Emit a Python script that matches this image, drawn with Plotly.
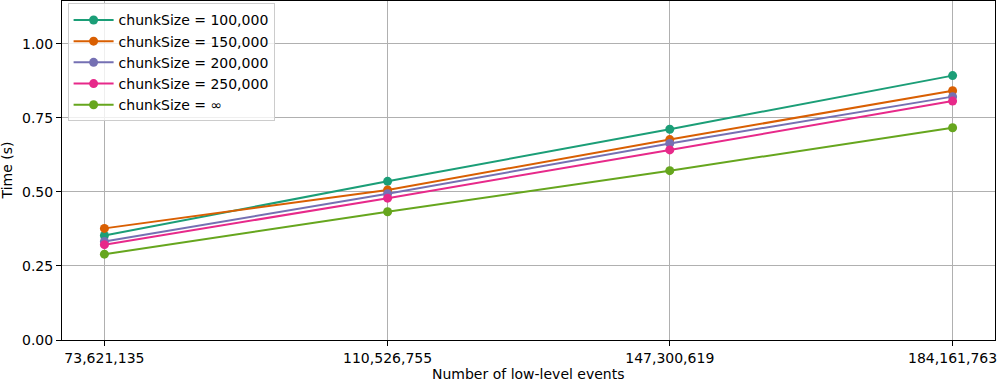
import plotly.graph_objects as go

# number of low-level events (x positions)
events = [73621135, 110526755, 147300619, 184161763]
event_labels = ["73,621,135", "110,526,755", "147,300,619", "184,161,763"]

# time in seconds for each chunk size
t_100k = [0.353, 0.536, 0.712, 0.893]
t_150k = [0.377, 0.507, 0.677, 0.842]
t_200k = [0.333, 0.494, 0.664, 0.822]
t_250k = [0.322, 0.479, 0.642, 0.807]
t_inf = [0.290, 0.433, 0.572, 0.717]

names = ["chunkSize = 100,000", "chunkSize = 150,000", "chunkSize = 200,000",
         "chunkSize = 250,000", "chunkSize = \u221e"]
colors = ["#1b9e77", "#d95f02", "#7570b3", "#e7298a", "#66a61e"]

fig = go.Figure()
for name, vals, col in zip(names, [t_100k, t_150k, t_200k, t_250k, t_inf], colors):
    fig.add_trace(go.Scatter(x=events, y=vals, name=name, mode="lines+markers",
                             line=dict(color=col, width=2),
                             marker=dict(color=col, size=9)))

# matplotlib-like 5% margins on x
span = events[-1] - events[0]
xr = [events[0] - 0.05 * span, events[-1] + 0.05 * span]

font = dict(family="DejaVu Sans", size=14, color="black")
axis_style = dict(showgrid=True, gridcolor="#b0b0b0", gridwidth=1,
                  zeroline=False, showline=True, linecolor="black", linewidth=1,
                  mirror=True, ticks="outside", ticklen=5, tickcolor="black",
                  automargin=False, ticklabeloverflow="allow")
fig.update_layout(
    width=997, height=381,
    margin=dict(l=62, r=2, t=1, b=41),
    plot_bgcolor="white", paper_bgcolor="white",
    font=font,
    showlegend=True,
    legend=dict(x=0.006, y=0.993, xanchor="left", yanchor="top",
                bgcolor="rgba(255,255,255,0.8)", bordercolor="#cccccc",
                borderwidth=1, font=dict(family="DejaVu Sans", size=14),
                itemwidth=40),
    xaxis=dict(range=xr, tickvals=events, ticktext=event_labels, **axis_style),
    yaxis=dict(range=[0, 1.145], tickvals=[0, 0.25, 0.5, 0.75, 1.0],
               ticktext=["0.00", "0.25", "0.50", "0.75", "1.00"], **axis_style),
    annotations=[
        dict(text="Number of low-level events", xref="paper", yref="paper",
             x=0.5, y=-0.1, xanchor="center", yanchor="middle",
             showarrow=False, font=font),
        dict(text="Time (s)", xref="paper", yref="paper",
             x=-0.059, y=0.5, xanchor="center", yanchor="middle",
             textangle=-90, showarrow=False, font=font),
    ],
)

fig.write_html("out.html", config={"displayModeBar": False},
               post_script="document.body.style.margin='0';")
